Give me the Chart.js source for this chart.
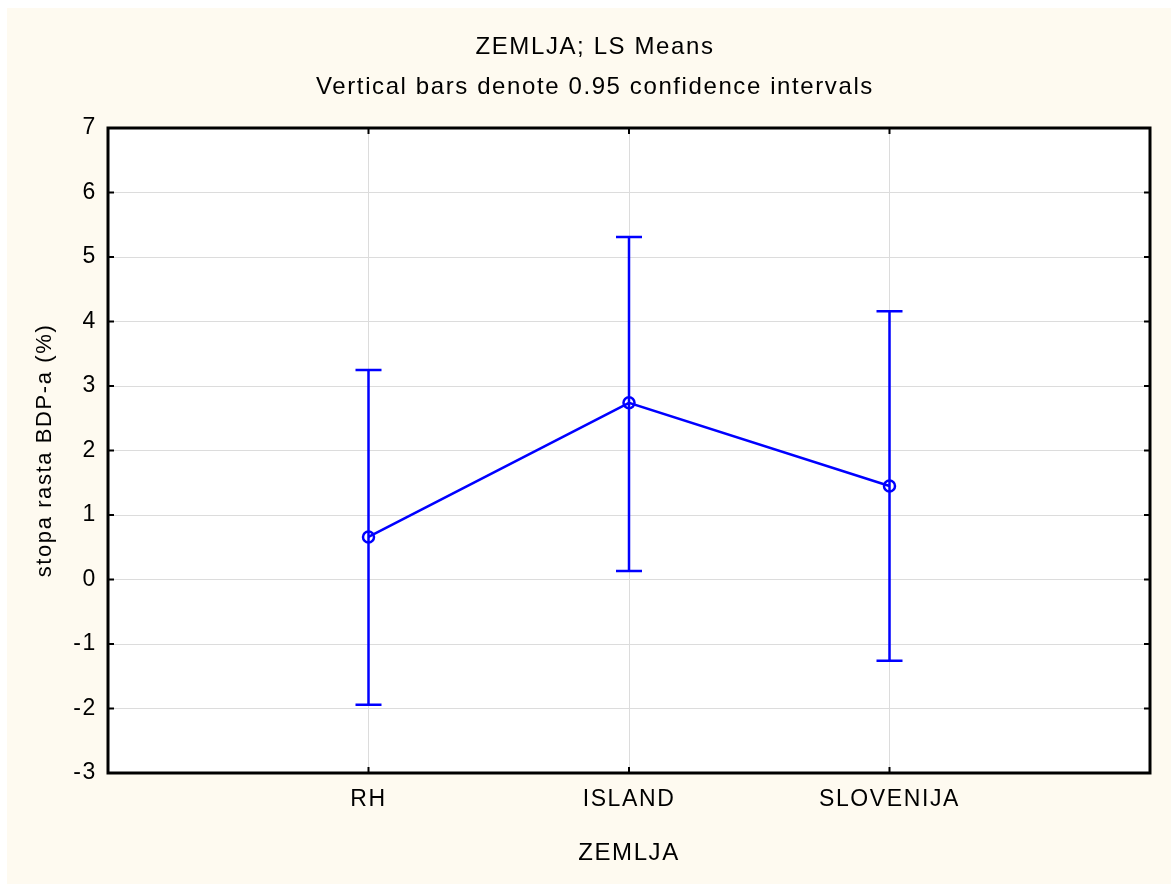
<!DOCTYPE html>
<html>
<head>
<meta charset="utf-8">
<script src="https://cdn.jsdelivr.net/npm/chart.js@4"></script>
<style>
html, body { margin: 0; padding: 0; background: #fff; }
canvas { display: block; }
</style>
</head>
<body>
<canvas id="myChart" width="1171" height="884"></canvas>
<script>
// LS means per country with 0.95 confidence limits
const countries = ['RH', 'ISLAND', 'SLOVENIJA'];
const means = [0.66, 2.74, 1.45];
const lower = [-1.94, 0.13, -1.26];
const upper = [3.25, 5.31, 4.16];

const titleLines = ['ZEMLJA; LS Means', 'Vertical bars denote 0.95 confidence intervals'];
const xTitle = 'ZEMLJA';
const yTitle = 'stopa rasta BDP-a (%)';

const family = '"Liberation Sans", Arial, sans-serif';
const blue = '#0000ff';

// cream frame, white plot, letter spacing like the original
const background = {
    id: 'background',
    beforeDraw(chart) {
        const { ctx, chartArea: a } = chart;
        ctx.save();
        ctx.fillStyle = '#ffffff';
        ctx.fillRect(0, 0, chart.width, chart.height);
        ctx.fillStyle = '#fefaf0';
        ctx.fillRect(7, 8, chart.width - 7, chart.height - 8);
        ctx.fillStyle = '#ffffff';
        ctx.fillRect(a.left, a.top, a.right - a.left, a.bottom - a.top);
        ctx.restore();
        ctx.letterSpacing = '1.6px';
    }
};

// vertical confidence bars with caps
const errorBars = {
    id: 'errorBars',
    afterDatasetsDraw(chart) {
        const { ctx, scales: { x, y } } = chart;
        ctx.save();
        ctx.strokeStyle = blue;
        ctx.lineWidth = 2.5;
        countries.forEach((c, i) => {
            const px = x.getPixelForValue(i + 1);
            const top = y.getPixelForValue(upper[i]);
            const bot = y.getPixelForValue(lower[i]);
            ctx.beginPath();
            ctx.moveTo(px, top);
            ctx.lineTo(px, bot);
            ctx.moveTo(px - 13, top);
            ctx.lineTo(px + 13, top);
            ctx.moveTo(px - 13, bot);
            ctx.lineTo(px + 13, bot);
            ctx.stroke();
        });
        ctx.restore();
    }
};

// black box round the plot with inward tick marks
const frame = {
    id: 'frame',
    afterDraw(chart) {
        const { ctx, chartArea: a, scales: { x, y } } = chart;
        ctx.save();
        ctx.strokeStyle = '#000';
        ctx.lineWidth = 3;
        ctx.strokeRect(a.left, a.top, a.right - a.left, a.bottom - a.top);
        ctx.lineWidth = 2;
        ctx.beginPath();
        y.ticks.forEach(t => {
            const py = y.getPixelForValue(t.value);
            ctx.moveTo(a.left, py);
            ctx.lineTo(a.left + 6, py);
            ctx.moveTo(a.right, py);
            ctx.lineTo(a.right - 6, py);
        });
        x.ticks.forEach(t => {
            const px = x.getPixelForValue(t.value);
            ctx.moveTo(px, a.bottom);
            ctx.lineTo(px, a.bottom - 6);
            ctx.moveTo(px, a.top);
            ctx.lineTo(px, a.top + 6);
        });
        ctx.stroke();
        ctx.restore();
    }
};

const ctx = document.getElementById('myChart');

new Chart(ctx, {
    type: 'line',
    data: {
        datasets: [{
            data: countries.map((c, i) => ({ x: i + 1, y: means[i] })),
            borderColor: blue,
            borderWidth: 2.5,
            tension: 0,
            pointRadius: 5.5,
            pointBorderWidth: 2.5,
            pointBorderColor: blue,
            pointBackgroundColor: 'rgba(0,0,0,0)'
        }]
    },
    options: {
        responsive: false,
        animation: false,
        layout: { padding: { left: 40, right: 21, top: 0, bottom: 0 } },
        plugins: {
            legend: { display: false },
            tooltip: { enabled: false },
            title: {
                display: true,
                text: titleLines,
                color: '#000',
                font: { family: family, size: 24, weight: 'normal', lineHeight: 40 / 24 },
                padding: { top: 27, bottom: 21 }
            }
        },
        scales: {
            x: {
                type: 'linear',
                min: 0,
                max: 4,
                afterBuildTicks: s => { s.ticks = countries.map((c, i) => ({ value: i + 1 })); },
                afterFit: s => { s.height = 111; },
                ticks: {
                    callback: v => countries[v - 1],
                    color: '#000',
                    font: { family: family, size: 23 },
                    padding: 13,
                    maxRotation: 0,
                    autoSkip: false
                },
                grid: { color: '#dcdcdc', lineWidth: 1, drawTicks: false },
                border: { display: false },
                title: {
                    display: true,
                    text: xTitle,
                    color: '#000',
                    font: { family: family, size: 24 },
                    padding: { top: 0, bottom: 16 }
                }
            },
            y: {
                min: -3,
                max: 7,
                afterFit: s => { s.width = 68; },
                ticks: {
                    stepSize: 1,
                    color: '#000',
                    font: { family: family, size: 23 },
                    padding: 11
                },
                grid: { color: '#dcdcdc', lineWidth: 1, drawTicks: false },
                border: { display: false },
                title: {
                    display: true,
                    text: yTitle,
                    color: '#000',
                    font: { family: family, size: 22 },
                    padding: { top: -8, bottom: 0 }
                }
            }
        }
    },
    plugins: [background, errorBars, frame]
});
</script>
</body>
</html>
